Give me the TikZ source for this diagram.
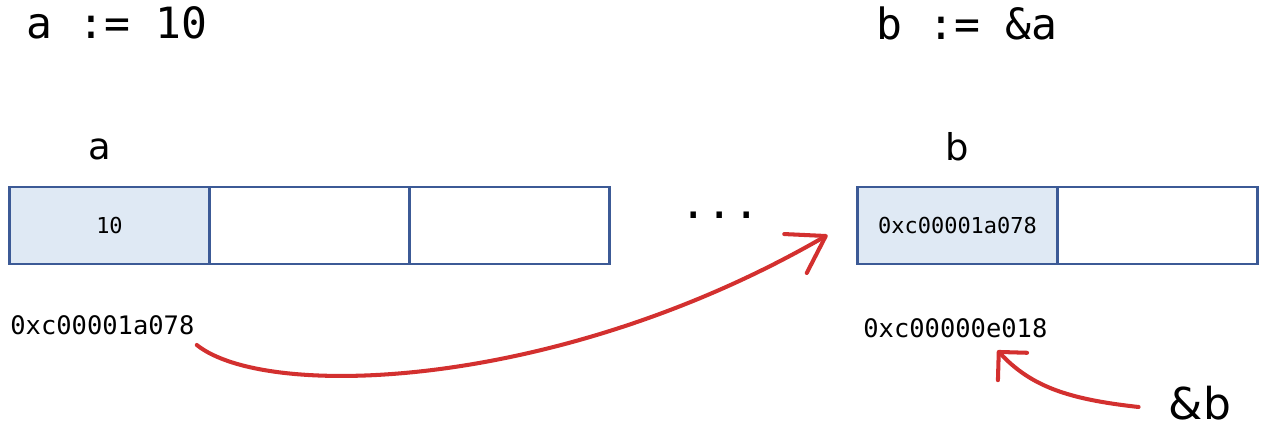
\documentclass[tikz,border=0pt]{standalone}
\usepackage{fontspec}
\setmainfont{DejaVu Sans}
\setmonofont{DejaVu Sans Mono}
\usetikzlibrary{positioning, arrows.meta}
\definecolor{CellBlue}{HTML}{3C5A96}
\definecolor{CellFill}{HTML}{DFE9F4}
\definecolor{PenRed}{HTML}{D3302F}
\tikzset{
  % Memory cells
  memcell/.style={rectangle, draw=CellBlue, line width=1.3pt, minimum width=4cm, minimum height=1.54cm, outer sep=0pt, inner sep=0pt, font=\ttfamily\fontsize{12.5}{14}\selectfont},
  usedcell/.style={memcell, fill=CellFill},
  % Text styles
  codeline/.style={font=\ttfamily\fontsize{24.5}{28}\selectfont, anchor=west, inner sep=0pt},
  varname/.style={font=\fontsize{21}{24}\selectfont, inner sep=0pt},
  addrtext/.style={font=\ttfamily\fontsize{14.5}{17}\selectfont, anchor=west, inner sep=0pt},
  % Hand drawn arrows
  penarrow/.style={PenRed, line width=2.3pt, line cap=round, line join=round}
}
\begin{document}
\begin{tikzpicture}[x=0.02cm, y=-0.02cm]
  \useasboundingbox (0,0) rectangle (1261,431);

  % Statements
  \node[codeline] (codea) at (26,23) {a := 10};
  \node[codeline] (codeb) at (876,23) {b := \&a};

  % Variable a
  \node[varname] (namea) at (100,149) {a};
  \node[usedcell] (a1) at (109.5,225.5) {10};
  \node[memcell, right=0pt of a1] (a2) {};
  \node[memcell, right=0pt of a2] (a3) {};
  \node[addrtext] (addra) at (10,325) {0xc00001a078};

  \node[font=\ttfamily\fontsize{25}{28}\selectfont, inner sep=0pt] (dots) at (720,215) {...};

  % Variable b
  \node[varname] (nameb) at (957,147) {b};
  \node[usedcell] (b1) at (957.5,225.5) {0xc00001a078};
  \node[memcell, right=0pt of b1] (b2) {};
  \node[addrtext] (addrb) at (863,328) {0xc00000e018};
  \node[font=\fontsize{25}{28}\selectfont, inner sep=0pt] (andb) at (1200,403) {\&b};

  % Pointers
  \draw[penarrow, -{Straight Barb[round, length=7mm, width=9mm]}]
    ([xshift=0.04cm, yshift=-0.2cm]addra.south east) .. controls +(70,56) and +(-268,155) ..
    ([xshift=-0.6cm, yshift=-0.19cm]b1.west);
  \draw[penarrow, -{Straight Barb[round, length=4mm, width=8mm]}]
    ([xshift=-0.6cm, yshift=-0.08cm]andb.west) .. controls +(-73,-8) and +(33,35) ..
    ([xshift=0.84cm, yshift=-0.25cm]addrb.south);
\end{tikzpicture}
\end{document}
